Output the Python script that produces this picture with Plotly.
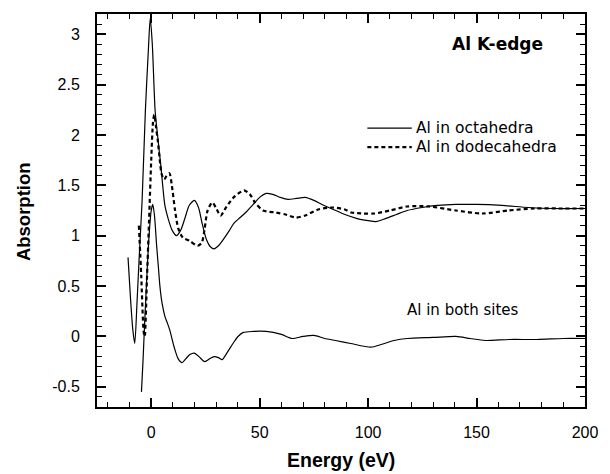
import plotly.graph_objects as go

# ---- data ----
oct_E = [-10.7, -9.5, -8.5, -7.6, -6.5, -5.4, -4.2, -2.7, -1.3, -0.45, 0.5, 1.8, 3.0, 4.5, 6.3, 7.8, 9.5,
         11.6, 13.5, 15.5, 17.5, 19.9, 21.8, 23.5, 25.5, 27.3, 29, 31, 33.5, 36, 38, 41, 44, 47, 50, 53, 56,
         59.5, 63, 67, 71, 75, 78.7, 84, 89.3, 95, 100, 103.6, 108, 113, 118, 125, 132, 140.5, 150, 161.7,
         173.8, 185, 200]
oct_A = [0.785, 0.36, 0.07, -0.07, 0.36, 0.85, 1.35, 2.24, 2.85, 3.16, 2.9, 2.24, 1.98, 1.68, 1.3, 1.17, 1.06,
         1.0, 1.05, 1.17, 1.3, 1.35, 1.28, 1.12, 0.96, 0.89, 0.87, 0.9, 0.97, 1.05, 1.12, 1.18, 1.24, 1.31, 1.38, 1.42, 1.41,
         1.38, 1.36, 1.37, 1.38, 1.35, 1.31, 1.26, 1.21, 1.17, 1.15, 1.14, 1.17, 1.21, 1.25, 1.28, 1.3, 1.31, 1.31, 1.30,
         1.28, 1.27, 1.27]

dod_E = [-5.7, -4.6, -3.5, -3.0, -2.0, -1.0, 0.0, 0.8, 1.4, 2.2, 3.0, 4.2, 4.8, 6.0, 7.0, 8.4, 9.5, 11, 12.5,
         14.6, 17.6, 21.4, 23.3, 24.5, 26, 28.2, 30, 32, 34.5, 38, 42.8, 45.5, 47.8, 51.6, 57.6, 62, 66.7, 71, 77,
         83.3, 89.3, 92.3, 98, 103, 110, 118, 128, 140.5, 152.6, 164.7, 176.7, 188, 200]
dod_A = [1.1, 0.6, 0.05, 0.0, 0.55, 1.15, 1.75, 2.12, 2.2, 2.08, 1.95, 1.7, 1.61, 1.56, 1.59, 1.62, 1.5, 1.25, 1.07,
         0.98, 0.95, 0.9, 0.93, 1.05, 1.25, 1.33, 1.27, 1.2, 1.28, 1.38, 1.45, 1.41, 1.33, 1.25, 1.23, 1.21, 1.18, 1.2, 1.26,
         1.28, 1.26, 1.23, 1.22, 1.22, 1.25, 1.29, 1.29, 1.25, 1.22, 1.25, 1.27, 1.27, 1.27]

both_E = [-4.5, -3.8, -3.0, -2.0, -1.0, 0.0, 0.7, 1.5, 2.5, 3.3, 4.0, 5.0, 6.3, 7.5, 8.6, 10.5, 12.4, 14.2, 16,
          17.8, 19.9, 22, 24.7, 27, 29, 31, 32.7, 35, 38, 40, 42.5, 47, 53, 60, 65, 70, 75, 80, 85, 92, 101.3,
          106, 112, 118, 130, 140.5, 147, 154, 165, 178, 190, 200]
both_A = [-0.55, -0.25, 0.15, 0.6, 1.0, 1.25, 1.31, 1.2, 0.9, 0.69, 0.5, 0.33, 0.2, 0.13, 0.06, -0.1, -0.22, -0.26, -0.22,
          -0.18, -0.165, -0.2, -0.25, -0.22, -0.2, -0.21, -0.23, -0.16, -0.06, 0.0, 0.04, 0.05, 0.05, 0.02, -0.02, 0.0, 0.01, -0.02, -0.04, -0.07, -0.106,
          -0.08, -0.04, -0.02, -0.01, 0.0, -0.02, -0.04, -0.03, -0.03, -0.02, -0.02]

series_names = ["Al in octahedra", "Al in dodecahedra", "Al in both sites"]
x_ticks = [0, 50, 100, 150, 200]
y_ticks = [-0.5, 0, 0.5, 1, 1.5, 2, 2.5, 3]
y_tick_text = ["-0.5", "0", "0.5", "1", "1.5", "2", "2.5", "3"]

TICKFONT = dict(family="Liberation Sans, Arial, sans-serif", size=16, color="black")
LBLFONT = dict(family="DejaVu Sans, sans-serif", size=15.5, color="black")

fig = go.Figure()
fig.add_trace(go.Scatter(x=oct_E, y=oct_A, mode="lines", name=series_names[0], showlegend=False,
                         line=dict(color="black", width=1.2, shape="spline", smoothing=0.7)))
fig.add_trace(go.Scatter(x=dod_E, y=dod_A, mode="lines", name=series_names[1], showlegend=False,
                         line=dict(color="black", width=2.2, dash="4px,3px", shape="spline", smoothing=0.7)))
fig.add_trace(go.Scatter(x=both_E, y=both_A, mode="lines", name=series_names[2], showlegend=False,
                         line=dict(color="black", width=1.2, shape="spline", smoothing=0.7)))

axis_common = dict(showgrid=False, zeroline=False, showline=True, linecolor="black", linewidth=2,
                   mirror="ticks", ticks="inside", ticklen=9, tickwidth=1.5, tickcolor="black",
                   tickfont=TICKFONT)
fig.update_xaxes(range=[-25, 200], tickvals=x_ticks, ticklabelstandoff=10,
                 minor=dict(dtick=10, ticks="inside", ticklen=5, tickwidth=1.2, tickcolor="black"),
                 **axis_common)
fig.update_yaxes(range=[-0.7, 3.2], tickvals=y_ticks, ticktext=y_tick_text, ticklabelstandoff=12,
                 minor=dict(dtick=0.1, ticks="inside", ticklen=5, tickwidth=1.2, tickcolor="black"),
                 **axis_common)

# legend drawn as layout shapes + text
LEG_Y1, LEG_Y2 = 0.7094, 0.6612
fig.add_shape(type="line", xref="paper", yref="paper", x0=0.554, x1=0.645, y0=LEG_Y1, y1=LEG_Y1,
              line=dict(color="black", width=1.2))
fig.add_shape(type="line", xref="paper", yref="paper", x0=0.554, x1=0.645, y0=LEG_Y2, y1=LEG_Y2,
              line=dict(color="black", width=2.2, dash="4px,3px"))
fig.add_annotation(xref="paper", yref="paper", x=0.651, y=LEG_Y1, text=series_names[0], showarrow=False,
                   xanchor="left", yanchor="middle", font=LBLFONT, borderpad=0)
fig.add_annotation(xref="paper", yref="paper", x=0.651, y=LEG_Y2, text=series_names[1], showarrow=False,
                   xanchor="left", yanchor="middle", font=LBLFONT, borderpad=0)
fig.add_annotation(xref="paper", yref="paper", x=0.751, y=0.246, text=series_names[2], showarrow=False,
                   xanchor="center", yanchor="middle", font=dict(family="DejaVu Sans, sans-serif", size=15, color="black"))
fig.add_annotation(xref="paper", yref="paper", x=0.821, y=0.924, text="<b>Al K-edge</b>", showarrow=False,
                   xanchor="center", yanchor="middle", font=dict(family="DejaVu Sans, sans-serif", size=17, color="black"))
# axis titles
fig.add_annotation(xref="paper", yref="paper", x=0.5, y=-0.1345, text="<b>Energy (eV)</b>", showarrow=False,
                   xanchor="center", yanchor="middle",
                   font=dict(family="Liberation Sans, Arial, sans-serif", size=19.5, color="black"))
fig.add_annotation(xref="paper", yref="paper", x=-0.1516, y=0.496, text="<b>Absorption</b>", showarrow=False,
                   textangle=-90, xanchor="center", yanchor="middle",
                   font=dict(family="Liberation Sans, Arial, sans-serif", size=18.5, color="black"))

fig.update_layout(width=610, height=474, margin=dict(l=97, r=15, t=13, b=67),
                  plot_bgcolor="white", paper_bgcolor="white", showlegend=False)

fig.write_html("out.html", config={"displayModeBar": False},
               post_script="document.body.style.margin='0px';document.body.style.overflow='hidden';")
